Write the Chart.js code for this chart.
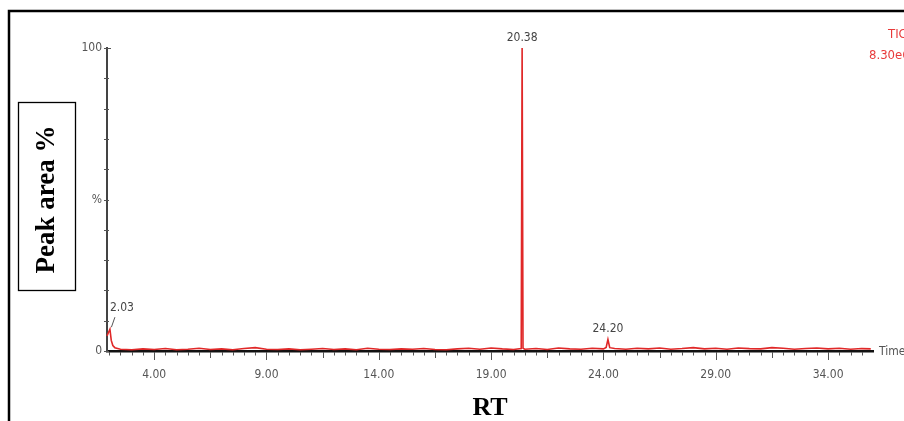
<!DOCTYPE html>
<html><head><meta charset="utf-8">
<script src="https://cdn.jsdelivr.net/npm/chart.js@4"></script>
<style>html,body{margin:0;padding:0;background:#fff;overflow:hidden}canvas{display:block}</style>
</head><body>
<canvas id="c" width="904" height="421"></canvas>
<script>
// ---- data ----
const retentionTimes = [1.90,1.97,2.03,2.09,2.16,2.25,
  2.5,3.0,3.5,4.0,4.5,5.0,5.5,6.0,6.5,7.0,7.5,8.0,8.5,9.0,9.5,10.0,10.5,11.0,11.5,12.0,12.5,13.0,13.5,14.0,14.5,15.0,15.5,16.0,16.5,17.0,17.5,18.0,18.5,19.0,19.5,20.0,
  20.34,20.38,20.42,
  20.5,21.0,21.5,22.0,22.5,23.0,23.5,24.0,
  24.12,24.20,24.28,
  24.5,25.0,25.5,26.0,26.5,27.0,27.5,28.0,28.5,29.0,29.5,30.0,30.5,31.0,31.5,32.0,32.5,33.0,33.5,34.0,34.5,35.0,35.5,35.9];
const peakAreaPct = [5.0,6.2,7.2,3.5,1.8,1.1,
  0.6,0.4,0.7,0.5,0.8,0.4,0.6,0.9,0.5,0.7,0.4,0.8,1.1,0.6,0.5,0.7,0.4,0.6,0.8,0.5,0.7,0.4,0.9,0.6,0.5,0.7,0.6,0.8,0.5,0.4,0.7,0.9,0.6,1.0,0.7,0.5,
  0.8,100,0.9,
  0.6,0.8,0.5,1.0,0.7,0.6,0.9,0.7,
  1.2,3.8,1.1,
  0.8,0.6,0.9,0.7,1.0,0.6,0.8,1.1,0.7,0.9,0.6,1.0,0.8,0.7,1.1,0.9,0.6,0.8,1.0,0.7,0.9,0.6,0.8,0.7];
const xTickValues = [4,9,14,19,24,29,34];
const xTickLabels = ['4.00','9.00','14.00','19.00','24.00','29.00','34.00'];
const yTickValues = [0,50,100];
const yTickLabels = ['0','%','100'];
const peakLabelRt = [2.03,20.38,24.20];
const peakLabelPct = [7.2,100,3.8];
const peakLabelText = ['2.03','20.38','24.20'];

const points = retentionTimes.map((t,i)=>({x:t,y:peakAreaPct[i]}));
const NARROW = "'DejaVu Sans Condensed','Liberation Sans Narrow','Arial Narrow',sans-serif";
const SERIF = "'Liberation Serif','Times New Roman',serif";

const decor = {
  id:'decor',
  beforeDraw(chart){
    const ctx = chart.ctx;
    ctx.save();
    ctx.fillStyle='#fff'; ctx.fillRect(0,0,chart.width,chart.height);
    ctx.strokeStyle='#000'; ctx.lineWidth=2.5;
    ctx.beginPath(); ctx.moveTo(9,chart.height); ctx.lineTo(9,11); ctx.lineTo(chart.width,11); ctx.stroke();
    // y-title box
    ctx.lineWidth=1.3;
    ctx.strokeRect(18.5,102.5,57,188);
    ctx.restore();
  },
  afterDraw(chart){
    const ctx = chart.ctx, xs = chart.scales.x, ys = chart.scales.y;
    const a = chart.chartArea;
    ctx.save();
    // x tick marks
    ctx.strokeStyle='#555'; ctx.lineWidth=1;
    for(let v=2.0; v<=35.51; v+=0.5){
      const px = Math.round(xs.getPixelForValue(v))+0.5;
      const d = ((v-4)%5+5)%5;
      let len = 3.5;
      if (Math.abs(d)<1e-6) len = 8; else if (Math.abs(d-2.5)<1e-6) len = 6;
      ctx.beginPath(); ctx.moveTo(px,a.bottom+1); ctx.lineTo(px,a.bottom+1+len); ctx.stroke();
    }
    // y tick marks
    for(let v=0; v<=100; v+=10){
      const py = Math.round(ys.getPixelForValue(v))+0.5;
      ctx.beginPath(); ctx.moveTo(a.left-3,py); ctx.lineTo(a.left+ (v===100?4:2),py); ctx.stroke();
    }
    // peak labels
    ctx.font = "12px "+NARROW; ctx.fillStyle='#444'; ctx.textBaseline='middle';
    peakLabelRt.forEach((t,i)=>{
      const px = xs.getPixelForValue(t), py = ys.getPixelForValue(peakLabelPct[i]);
      if (i===0){
        ctx.textAlign='left'; ctx.fillText(peakLabelText[i], px, py-21);
        ctx.beginPath(); ctx.moveTo(px+1.5,py-2); ctx.lineTo(px+5,py-12); ctx.stroke();
      } else {
        ctx.textAlign='center'; ctx.fillText(peakLabelText[i], px, py-(i===1?10:11));
      }
    });
    // axis end label
    ctx.textAlign='left'; ctx.fillStyle='#555';
    ctx.fillText('Time', a.right+6, a.bottom+1);
    // trace info
    ctx.fillStyle='#e83a3a'; ctx.font="13px "+NARROW;
    ctx.fillText('TIC', 888, 35);
    ctx.fillText('8.30e6', 869, 56);
    ctx.restore();
  }
};

new Chart(document.getElementById('c'), {
  type:'scatter',
  data:{datasets:[{data:points, showLine:true, borderColor:'#e02828', backgroundColor:'#e02828',
    borderWidth:1.6, pointRadius:0, tension:0, clip:false}]},
  options:{
    responsive:false, animation:false, devicePixelRatio:1,
    layout:{padding:{left:0,right:31,top:48,bottom:0}},
    plugins:{legend:{display:false}, tooltip:{enabled:false}},
    scales:{
      x:{type:'linear', min:1.9, max:36,
        afterBuildTicks(s){ s.ticks = xTickValues.map(v=>({value:v})); },
        afterFit(s){ s.height = 70; },
        grid:{display:false, drawTicks:false, tickLength:0},
        border:{display:true, color:'#111', width:2.5},
        ticks:{autoSkip:false, maxRotation:0, padding:17, color:'#555',
          font:{family:NARROW, size:12},
          callback:(v)=>{ const i = xTickValues.indexOf(v); return i>=0 ? xTickLabels[i] : ''; }},
        title:{display:true, text:'RT', color:'#000', font:{family:SERIF, size:26, weight:'bold', lineHeight:1}, padding:{top:0,bottom:0}}
      },
      y:{type:'linear', min:0, max:100,
        afterBuildTicks(s){ s.ticks = yTickValues.map(v=>({value:v})); },
        afterFit(s){ s.width = 107; },
        grid:{display:false, drawTicks:false, tickLength:0},
        border:{display:true, color:'#444', width:2},
        ticks:{autoSkip:false, padding:5, color:'#555', font:{family:NARROW, size:12},
          callback:(v)=>{ const i = yTickValues.indexOf(v); return i>=0 ? yTickLabels[i] : ''; }},
        title:{display:true, text:'Peak area %', color:'#000', font:{family:SERIF, size:27, weight:'bold', lineHeight:1}, padding:{top:34,bottom:0}}
      }
    }
  },
  plugins:[decor]
});
</script>
</body></html>
